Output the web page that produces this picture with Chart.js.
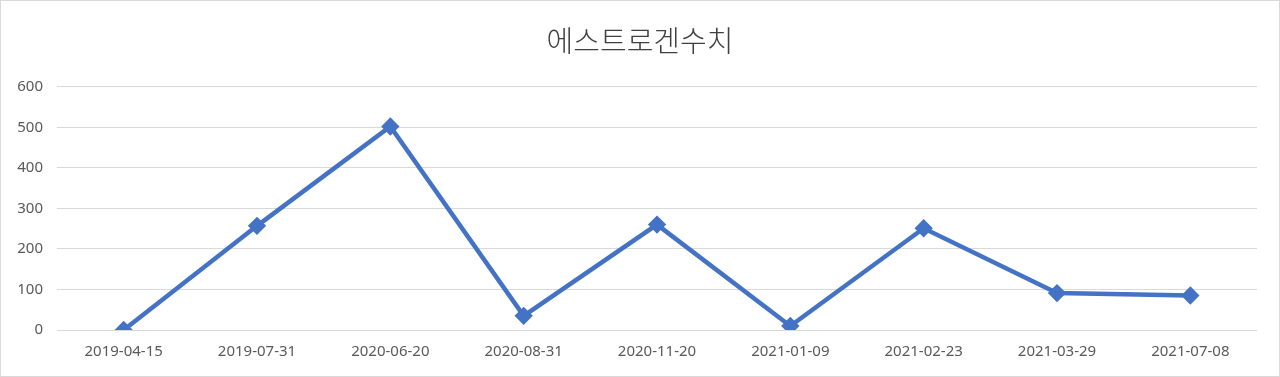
<!DOCTYPE html>
<html>
<head>
<meta charset="utf-8">
<script src="https://cdn.jsdelivr.net/npm/chart.js@4"></script>
<style>
  html, body { margin: 0; padding: 0; background: #fff; }
  #wrap { width: 1280px; height: 377px; box-sizing: border-box; border: 1px solid #d9d9d9; }
  #chart { display: block; }
</style>
</head>
<body>
<div id="wrap"><canvas id="chart" width="1278" height="375"></canvas></div>
<script>
const dates = ["2019-04-15", "2019-07-31", "2020-06-20", "2020-08-31", "2020-11-20",
               "2021-01-09", "2021-02-23", "2021-03-29", "2021-07-08"];
const estrogen = [0, 257, 502, 35, 260, 10, 251, 91, 85];
const yTicks = [0, 100, 200, 300, 400, 500, 600];

const ctx = document.getElementById("chart").getContext("2d");
new Chart(ctx, {
    type: "line",
    data: {
        labels: dates,
        datasets: [{
            label: "에스트로겐수치",
            data: estrogen,
            borderColor: "#4472C4",
            backgroundColor: "#4472C4",
            borderWidth: 4.5,
            pointStyle: "rectRot",
            pointRadius: 6,
            pointHoverRadius: 6,
            tension: 0,
            fill: false
        }]
    },
    options: {
        responsive: false,
        animation: false,
        layout: { padding: 0 },
        plugins: {
            legend: { display: false },
            tooltip: { enabled: false },
            title: {
                display: true,
                text: "에스트로겐수치",
                color: "#404040",
                font: { family: "'Noto Sans CJK KR', 'Noto Sans'", size: 29, weight: 300, lineHeight: 1.2 },
                padding: { top: 23, bottom: 28 }
            }
        },
        scales: {
            x: {
                offset: true,
                grid: { display: false, drawTicks: false },
                border: { display: false },
                ticks: {
                    color: "#595959",
                    font: { family: "'Noto Sans'", size: 15 },
                    padding: 13,
                    maxRotation: 0,
                    autoSkip: false
                },
                afterFit: s => { s.height = 46; }
            },
            y: {
                min: 0,
                max: yTicks[yTicks.length - 1],
                afterBuildTicks: s => { s.ticks = yTicks.map(v => ({ value: v })); },
                grid: { color: "#d9d9d9", lineWidth: 1, drawTicks: false },
                border: { display: false },
                ticks: {
                    color: "#595959",
                    font: { family: "'Noto Sans'", size: 15 },
                    padding: 14
                },
                afterFit: s => { s.width = 56; }
            },
            // empty right-hand spacer so the title stays centred on the page
            yr: {
                position: "right",
                min: 0,
                max: yTicks[yTicks.length - 1],
                grid: { display: false, drawTicks: false },
                border: { display: false },
                ticks: { display: false },
                afterFit: s => { s.width = 22; }
            }
        }
    }
});
</script>
</body>
</html>
